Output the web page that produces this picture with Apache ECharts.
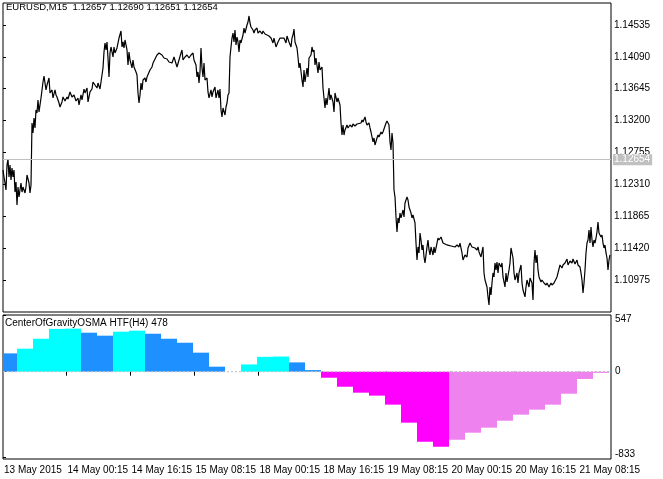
<!DOCTYPE html>
<html><head><meta charset="utf-8">
<script src="https://cdn.jsdelivr.net/npm/echarts@6/dist/echarts.min.js"></script>
<style>html,body{margin:0;padding:0;background:#fff}#c{width:663px;height:479px}</style>
</head><body><div id="c"></div>
<script>
const chartTitle = 'EURUSD,M15  1.12657 1.12690 1.12651 1.12654';
const oscTitle = 'CenterOfGravityOSMA HTF(H4) 478';
const barCount = 608;
const currentPrice = 1.12654;
const priceMin = 1.10528, priceMax = 1.14842;
const oscMin = -853, oscMax = 554;

const xTickBars = [0, 63.5, 127.5, 191.5, 255.5, 319.5, 383.5, 447.5, 511.5, 575.5];
const xTickLabels = ['13 May 2015','14 May 00:15','14 May 16:15','15 May 08:15','18 May 00:15','18 May 16:15','19 May 08:15','20 May 00:15','20 May 16:15','21 May 08:15'];
const priceTicks = [1.14535,1.14090,1.13645,1.13200,1.12755,1.12310,1.11865,1.11420,1.10975];
const oscTicks = [547, 0, -833];

const priceBar = [0,1,2,3,4,5,6,7,8,9,10,11,12,13,14,15,16,18,19,20,22,23,24,26,27,28,29,30,31,32,33,34,35,36,38,39,40,41,43,44,46,47,49,50,52,53,54,56,57,59,60,62,64,65,67,69,71,73,75,76,78,79,81,82,84,85,87,89,90,92,94,95,97,99,100,101,102,103,104,105,106,107,108,110,111,112,114,115,116,118,119,120,121,122,124,125,126,127,129,130,131,133,134,135,136,137,138,139,140,142,143,144,146,147,149,150,152,154,156,159,161,164,166,169,171,174,176,178,179,180,182,184,186,188,190,191,193,194,195,196,197,198,199,200,201,202,204,205,206,208,209,210,212,213,215,216,217,218,219,220,222,223,224,225,226,227,228,229,230,231,232,233,234,235,236,237,238,240,241,242,244,245,246,247,248,250,251,252,254,255,257,259,260,262,264,266,268,270,271,273,275,277,279,281,283,284,286,288,289,290,291,292,294,295,296,297,299,300,301,302,304,305,306,308,309,310,311,312,313,315,316,317,319,320,321,322,323,324,326,327,328,330,331,332,334,335,337,338,339,340,341,342,344,345,347,349,350,352,354,356,358,359,360,362,363,364,366,367,368,370,371,372,374,375,376,378,379,380,382,383,384,386,387,388,389,390,391,392,393,394,395,396,397,398,400,401,402,404,405,406,408,409,410,412,413,414,415,416,417,418,419,420,421,422,424,425,426,427,428,430,431,432,434,435,436,438,439,440,442,444,446,448,450,452,454,456,457,459,460,462,464,465,467,469,470,472,474,475,476,478,479,480,481,482,484,485,486,487,488,489,490,491,492,493,494,495,496,498,499,500,502,503,504,506,507,508,510,511,512,514,515,516,518,519,520,522,523,524,526,527,529,530,531,532,533,534,535,536,538,539,541,543,544,546,548,549,551,552,554,555,557,559,560,562,564,565,567,569,570,572,574,575,577,578,579,580,581,582,583,584,585,586,587,588,589,590,591,592,593,594,595,596,597,598,599,600,601,602,603,604,605,606,607];
const priceClose = [1.12511,1.12413,1.12329,1.12231,1.12580,1.12664,1.12413,1.12580,1.12371,1.12539,1.12413,1.12511,1.12203,1.12343,1.12022,1.12273,1.12134,1.12329,1.12203,1.12273,1.12190,1.12273,1.12441,1.12329,1.12190,1.12301,1.13167,1.13027,1.13237,1.13097,1.13348,1.13306,1.13488,1.13320,1.13516,1.13628,1.13739,1.13823,1.13628,1.13697,1.13795,1.13586,1.13628,1.13516,1.13628,1.13558,1.13530,1.13446,1.13390,1.13460,1.13530,1.13474,1.13530,1.13502,1.13600,1.13530,1.13558,1.13474,1.13516,1.13418,1.13558,1.13488,1.13641,1.13586,1.13655,1.13460,1.13600,1.13641,1.13739,1.13697,1.13655,1.13725,1.13641,1.13837,1.13935,1.14158,1.14284,1.14186,1.14298,1.14074,1.13809,1.14144,1.14228,1.14088,1.14228,1.14144,1.14214,1.14228,1.14353,1.14451,1.14228,1.14298,1.14214,1.14326,1.14186,1.13977,1.14158,1.14046,1.13935,1.14046,1.13949,1.13879,1.13837,1.13586,1.13446,1.13558,1.13725,1.13628,1.13767,1.13795,1.13739,1.13809,1.13795,1.13907,1.13949,1.14004,1.14060,1.14116,1.14144,1.14116,1.14074,1.14060,1.14018,1.14004,1.14088,1.13949,1.14046,1.14144,1.14186,1.14046,1.14088,1.14116,1.14074,1.14116,1.14144,1.14046,1.13977,1.13809,1.13879,1.13725,1.13879,1.14214,1.13935,1.13809,1.14004,1.13767,1.13795,1.13600,1.13516,1.13628,1.13530,1.13600,1.13669,1.13516,1.13628,1.13516,1.13641,1.13348,1.13251,1.13376,1.13278,1.13390,1.13446,1.13558,1.13586,1.14088,1.14228,1.14353,1.14423,1.14298,1.14465,1.14256,1.14367,1.14298,1.14158,1.14326,1.14284,1.14395,1.14493,1.14423,1.14535,1.14577,1.14661,1.14563,1.14507,1.14465,1.14423,1.14465,1.14493,1.14423,1.14451,1.14409,1.14451,1.14409,1.14423,1.14381,1.14353,1.14284,1.14353,1.14228,1.14298,1.14353,1.14326,1.14353,1.14284,1.14381,1.14298,1.14228,1.14353,1.14395,1.14479,1.14298,1.14214,1.14088,1.13935,1.14004,1.13767,1.13669,1.13907,1.13739,1.13935,1.13809,1.14074,1.14116,1.14228,1.14158,1.14186,1.13977,1.14074,1.13865,1.14018,1.13907,1.13949,1.13655,1.13516,1.13376,1.13516,1.13418,1.13655,1.13488,1.13558,1.13460,1.13320,1.13586,1.13460,1.13516,1.13418,1.13167,1.12999,1.13139,1.12999,1.13069,1.13139,1.13097,1.13139,1.13111,1.13153,1.13125,1.13153,1.13139,1.13167,1.13209,1.13181,1.13251,1.13181,1.13139,1.13167,1.13097,1.13041,1.12902,1.12957,1.12860,1.12957,1.12999,1.12971,1.13041,1.13013,1.13041,1.13027,1.13167,1.13195,1.13139,1.12902,1.12790,1.13027,1.12888,1.12231,1.12134,1.11854,1.11645,1.11841,1.11771,1.11910,1.11841,1.11952,1.11854,1.12050,1.12134,1.12092,1.11994,1.11910,1.11841,1.11882,1.11771,1.11491,1.11254,1.11436,1.11352,1.11631,1.11533,1.11394,1.11464,1.11296,1.11212,1.11436,1.11533,1.11394,1.11324,1.11436,1.11324,1.11436,1.11352,1.11491,1.11561,1.11533,1.11575,1.11533,1.11491,1.11491,1.11464,1.11478,1.11450,1.11464,1.11436,1.11464,1.11436,1.11491,1.11352,1.11254,1.11324,1.11296,1.11422,1.11491,1.11436,1.11450,1.11422,1.11394,1.11436,1.11366,1.11296,1.11366,1.11436,1.11073,1.10975,1.10877,1.10738,1.10626,1.10877,1.10766,1.10933,1.11073,1.11017,1.11212,1.11115,1.11226,1.11073,1.11212,1.11156,1.11212,1.11017,1.10877,1.11073,1.10947,1.11115,1.11212,1.11422,1.11282,1.11073,1.10975,1.11073,1.10933,1.11073,1.11184,1.10933,1.10835,1.10738,1.10877,1.10975,1.10877,1.11003,1.10933,1.10696,1.11212,1.11394,1.11212,1.11324,1.11115,1.11017,1.10947,1.10975,1.10933,1.10905,1.10933,1.10877,1.10933,1.10905,1.10933,1.10961,1.11017,1.11073,1.11184,1.11142,1.11184,1.11212,1.11268,1.11184,1.11240,1.11212,1.11268,1.11198,1.11254,1.11184,1.11156,1.11073,1.10975,1.10793,1.10933,1.11115,1.11352,1.11491,1.11533,1.11673,1.11491,1.11715,1.11533,1.11436,1.11533,1.11491,1.11561,1.11645,1.11785,1.11631,1.11645,1.11575,1.11603,1.11491,1.11422,1.11464,1.11352,1.11282,1.11115,1.11254,1.11324];

const h4Start = [0,14,30,46,62,78,94,110,126,142,158,174,190,206,222,238,254,270,286,302,318,334,350,366,382,398,414,430,446,462,478,494,510,526,542,558,574,590,606];
const oscValue = [179,225,322,418,421,381,352,391,401,371,322,283,186,49,0,71,145,148,91,16,-59,-147,-205,-234,-322,-498,-684,-733,-664,-596,-547,-479,-420,-371,-322,-215,-71,-12,5];
// 0 = falling above zero, 1 = rising above zero, 2 = falling below zero, 3 = rising below zero
const oscState = [0,1,1,1,1,0,0,1,1,0,0,0,0,0,0,1,1,1,0,0,2,2,2,2,2,2,2,2,3,3,3,3,3,3,3,3,3,3,1];

const FONT = 'Liberation Sans';
const oscPalette = ['#1E90FF','#00FFFF','#FF00FF','#EE82EE'];
const h4End = h4Start.map((s, k) => k + 1 < h4Start.length ? h4Start[k + 1] : barCount);
const oscRows = h4Start.map((s, k) => [s, h4End[k], oscValue[k], oscState[k]]);
const priceData = priceBar.map((b, k) => [b, priceClose[k]]);

const txt = {fontSize: 10, fontFamily: FONT, color: '#000', fontWeight: 'normal'};
const chart = echarts.init(document.getElementById('c'), null, {renderer: 'canvas'});
chart.setOption({
  animation: false,
  backgroundColor: '#fff',
  textStyle: {fontFamily: FONT},
  title: [
    {text: chartTitle, left: 6, top: 2, padding: 0, textStyle: Object.assign({}, txt, {fontSize: 9.5})},
    {text: oscTitle, left: 5, top: 318, padding: 0, textStyle: txt}
  ],
  grid: [
    {left: 3, top: 3, width: 608, height: 309, show: true, borderColor: '#000', borderWidth: 1, backgroundColor: 'transparent', outerBoundsMode: 'none', containLabel: false},
    {left: 3, top: 315, width: 608, height: 144, show: true, borderColor: '#000', borderWidth: 1, backgroundColor: 'transparent', outerBoundsMode: 'none', containLabel: false}
  ],
  xAxis: [
    {type: 'value', gridIndex: 0, min: 0, max: barCount, show: false},
    {type: 'value', gridIndex: 1, min: 0, max: barCount,
      axisLine: {show: false}, splitLine: {show: false},
      axisTick: {show: true, customValues: xTickBars.slice(1), length: 4, lineStyle: {color: '#000'}},
      axisLabel: Object.assign({customValues: xTickBars, formatter: v => xTickLabels[xTickBars.indexOf(v)],
        align: 'left', margin: 6, padding: [0, 0, 0, 1], showMinLabel: true, showMaxLabel: true}, txt)}
  ],
  yAxis: [
    {type: 'value', gridIndex: 0, position: 'right', min: priceMin, max: priceMax,
      splitLine: {show: false}, axisLine: {show: false},
      axisTick: {show: true, customValues: priceTicks, length: 3, lineStyle: {color: '#000'}},
      axisLabel: Object.assign({customValues: priceTicks, formatter: v => v.toFixed(5), margin: 3}, txt)},
    {type: 'value', gridIndex: 1, position: 'right', min: oscMin, max: oscMax,
      splitLine: {show: false}, axisLine: {show: false},
      axisTick: {show: true, customValues: oscTicks, length: 3, lineStyle: {color: '#000'}},
      axisLabel: Object.assign({customValues: oscTicks, margin: 4,
        formatter: v => v === oscTicks[0] ? '{t|' + v + '}' : (v === oscTicks[2] ? '{b|' + v + '}' : String(v)),
        rich: {
          t: {padding: [8, 0, 0, 0], fontSize: 10, fontFamily: FONT, color: '#000'},
          b: {padding: [0, 0, 6, 0], fontSize: 10, fontFamily: FONT, color: '#000'}
        }}, txt)}
  ],
  series: [
    {type: 'line', xAxisIndex: 0, yAxisIndex: 0, data: priceData, showSymbol: false, symbol: 'none',
      lineStyle: {color: '#000', width: 1.2}, emphasis: {disabled: true}, silent: true, z: 3,
      markLine: {silent: true, symbol: ['none', 'none'], animation: false, precision: 5,
        lineStyle: {color: '#C0C0C0', width: 1, type: 'solid'},
        label: {show: true, position: 'end', distance: 2, formatter: currentPrice.toFixed(5),
          backgroundColor: '#C0C0C0', color: '#fff', fontSize: 10, fontFamily: FONT, padding: [1, 2, 0, 1], lineHeight: 10},
        emphasis: {disabled: true},
        data: [{yAxis: currentPrice}]}},
    {type: 'custom', xAxisIndex: 1, yAxisIndex: 1, data: oscRows, encode: {x: [0, 1], y: 2}, silent: true,
      renderItem: (params, api) => {
        const s = api.value(0), e = api.value(1), v = api.value(2);
        const a = api.coord([s, v]), b = api.coord([e, 0]);
        return {type: 'rect', shape: {x: a[0], y: Math.min(a[1], b[1]), width: b[0] - a[0], height: Math.abs(b[1] - a[1])},
          style: {fill: oscPalette[api.value(3)]}};
      }},
    {type: 'line', xAxisIndex: 1, yAxisIndex: 1, data: [[0, 0], [barCount, 0]], symbol: 'none', silent: true, z: 4,
      lineStyle: {color: '#BEBEBE', width: 1, type: [2, 2]}, emphasis: {disabled: true}}
  ]
});
</script></body></html>
